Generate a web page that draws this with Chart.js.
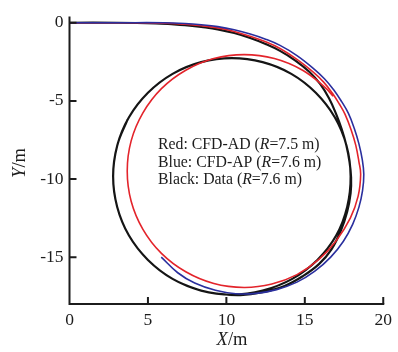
<!DOCTYPE html>
<html>
<head>
<meta charset="utf-8">
<script src="https://cdn.jsdelivr.net/npm/chart.js@4/dist/chart.umd.min.js"></script>
<style>
html,body{margin:0;padding:0;background:#fff;}
canvas{display:block;}
</style>
</head>
<body>
<canvas id="c" width="398" height="352"></canvas>
<script>
// ---- data ----
const xTicks = [0, 5, 10, 15, 20];
const yTicks = [0, -5, -10, -15];

// Black: measured data (R = 7.6 m)
const dataPath = [
  [0,0],[3,0],[5.5,-0.04],[6.5,-0.09],[7.36,-0.15],[8.4,-0.27],[9.45,-0.42],[10.5,-0.66],
  [11.52,-0.98],[12.5,-1.36],[13.42,-1.8],[14.4,-2.42],[15.3,-3.15],[16.0,-3.95],[16.55,-4.85],
  [16.98,-5.8],[17.35,-6.8],[17.65,-7.85],[17.85,-8.9],[17.95,-9.9],[17.92,-10.9],[17.7,-12.1],
  [17.3,-13.3],[16.7,-14.5],[15.9,-15.45],[14.9,-16.2],[13.7,-16.85],[12.3,-17.25],[10.9,-17.43],
  [9.5,-17.35],[8.39,-17.14],[6.57,-16.39],[5.0,-15.18],[3.79,-13.62],[3.04,-11.79],[2.78,-9.83],
  [3.04,-7.87],[3.79,-6.05],[5.0,-4.48],[6.57,-3.27],[8.39,-2.52],[10.35,-2.26],[12.31,-2.52],
  [14.14,-3.27],[15.7,-4.48],[16.91,-6.05],[17.66,-7.87],[17.92,-9.83],[17.7,-11.79],[17.0,-13.62],
  [15.8,-15.18],[14.2,-16.39],[12.31,-17.14],[10.35,-17.4],[8.39,-17.14],[6.57,-16.39],[5.0,-15.18],
  [3.79,-13.62],[3.04,-11.79],[2.78,-9.83],[3.04,-7.87],[3.7,-6.2]
];

// Red: CFD-AD (R = 7.5 m)
const adPath = [
  [0,0],[3,0],[6,-0.03],[7.36,-0.1],[8.4,-0.19],[9.45,-0.33],[10.5,-0.56],[11.52,-0.87],
  [12.5,-1.22],[13.42,-1.65],[14.5,-2.35],[15.52,-3.15],[16.2,-3.8],[16.75,-4.5],[17.2,-5.2],
  [17.56,-5.85],[17.95,-6.85],[18.25,-7.85],[18.45,-8.9],[18.56,-9.7],[18.4,-11.1],[17.9,-12.5],
  [17.0,-13.95],[15.9,-15.15],[14.5,-16.12],[12.9,-16.72],[11.13,-16.94],[9.2,-16.69],[7.41,-15.94],
  [5.86,-14.76],[4.68,-13.22],[3.93,-11.42],[3.68,-9.49],[3.93,-7.56],[4.68,-5.77],[5.86,-4.22],
  [7.41,-3.04],[9.2,-2.29],[11.13,-2.04],[13.06,-2.29],[14.86,-3.04],[16.3,-4.15],[16.8,-4.7]
];

// Blue: CFD-AP (R = 7.6 m)
const apPath = [
  [0,0],[3,0],[6,0],[7.36,-0.05],[8.4,-0.13],[9.45,-0.25],[10.5,-0.45],[11.52,-0.72],
  [12.5,-1.05],[13.42,-1.45],[14.5,-2.1],[15.52,-2.9],[16.25,-3.58],[16.85,-4.3],[17.35,-5.05],
  [17.78,-5.8],[18.15,-6.75],[18.45,-7.75],[18.66,-8.75],[18.76,-9.7],[18.68,-10.75],[18.45,-11.8],
  [18.05,-12.9],[17.45,-14.0],[16.65,-15.0],[15.64,-15.9],[14.5,-16.6],[13.2,-17.08],[11.9,-17.32],
  [10.6,-17.34],[9.3,-17.12],[7.98,-16.66],[6.9,-16.0],[5.85,-15.0]
];

const legendLines = [
  ["Red: CFD-AD (", "R", "=7.5 m)"],
  ["Blue: CFD-AP (", "R", "=7.6 m)"],
  ["Black: Data (", "R", "=7.6 m)"]
];

const toPts = arr => arr.map(p => ({x: p[0], y: p[1]}));
const SERIF = '"Liberation Serif", "Times New Roman", serif';
const INK = '#1c1c1c';

const decor = {
  id: 'decor',
  afterDraw(chart) {
    const ctx = chart.ctx;
    const xs = chart.scales.x, ys = chart.scales.y;
    const x0 = xs.getPixelForValue(0), x20 = xs.getPixelForValue(20);
    const yTop = ys.getPixelForValue(ys.max), yBot = ys.getPixelForValue(ys.min);
    ctx.save();
    ctx.strokeStyle = INK;
    ctx.lineWidth = 2;
    ctx.beginPath();
    ctx.moveTo(x0, yTop);
    ctx.lineTo(x0, yBot);
    ctx.lineTo(x20 + 1, yBot);
    ctx.stroke();
    // inward ticks
    ctx.beginPath();
    yTicks.forEach(v => {
      const p = ys.getPixelForValue(v);
      ctx.moveTo(x0, p); ctx.lineTo(x0 + 7, p);
    });
    xTicks.forEach(v => {
      if (v === 0) return;
      const p = xs.getPixelForValue(v);
      ctx.moveTo(p, yBot); ctx.lineTo(p, yBot - 7);
    });
    ctx.stroke();

    ctx.fillStyle = INK;
    ctx.textBaseline = 'middle';
    ctx.textAlign = 'left';
    const drawMixed = (parts, x, y, size) => {
      let cx = x;
      parts.forEach(([t, it]) => {
        ctx.font = (it ? 'italic ' : '') + size + 'px ' + SERIF;
        ctx.fillText(t, cx, y);
        cx += ctx.measureText(t).width;
      });
    };
    const measureMixed = (parts, size) => parts.reduce((w, [t, it]) => {
      ctx.font = (it ? 'italic ' : '') + size + 'px ' + SERIF;
      return w + ctx.measureText(t).width;
    }, 0);
    // axis titles
    const xt = [["X", true], ["/m", false]];
    const wx = measureMixed(xt, 18.5);
    drawMixed(xt, 232 - wx / 2, 340, 18.5);

    ctx.save();
    ctx.translate(20, 163);
    ctx.rotate(-Math.PI / 2);
    const yt = [["Y", true], ["/m", false]];
    const wy = measureMixed(yt, 18.5);
    drawMixed(yt, -wy / 2, 0, 18.5);
    ctx.restore();

    // legend text
    legendLines.forEach((ln, i) => {
      drawMixed([[ln[0], false], [ln[1], true], [ln[2], false]], 158, 145 + i * 17.5, 15.8);
    });
    ctx.restore();
  }
};

new Chart(document.getElementById('c'), {
  type: 'scatter',
  data: {
    datasets: [
      {label: 'CFD-AP', data: toPts(apPath), showLine: true, borderColor: '#2a2f9e', borderWidth: 1.6, pointRadius: 0, tension: 0.4, fill: false},
      {label: 'CFD-AD', data: toPts(adPath), showLine: true, borderColor: '#e3242b', borderWidth: 1.6, pointRadius: 0, tension: 0.4, fill: false},
      {label: 'Data', data: toPts(dataPath), showLine: true, borderColor: '#151515', borderWidth: 2.2, pointRadius: 0, tension: 0.4, fill: false}
    ]
  },
  options: {
    responsive: false,
    animation: false,
    events: [],
    layout: {padding: {left: 0, right: 10, top: 13.6, bottom: 0}},
    plugins: {legend: {display: false}, tooltip: {enabled: false}},
    scales: {
      x: {
        type: 'linear', min: 0, max: 20,
        afterBuildTicks: s => { s.ticks = xTicks.map(v => ({value: v})); },
        afterFit: s => { s.height = 48; },
        grid: {display: false, drawTicks: false},
        border: {display: false},
        ticks: {color: INK, padding: 6, font: {family: SERIF, size: 17.5}, maxRotation: 0, callback: v => String(v)}
      },
      y: {
        type: 'linear', min: -18, max: 0.4,
        afterBuildTicks: s => { s.ticks = yTicks.map(v => ({value: v})); },
        afterFit: s => { s.width = 69.5; },
        grid: {display: false, drawTicks: false},
        border: {display: false},
        ticks: {color: INK, padding: 6, font: {family: SERIF, size: 17.5}, callback: v => String(v)}
      }
    }
  },
  plugins: [decor]
});
</script>
</body>
</html>
